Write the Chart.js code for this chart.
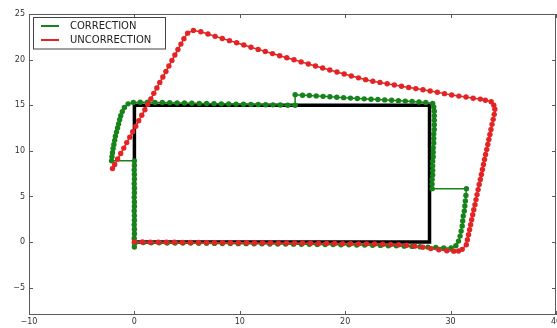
<!DOCTYPE html>
<html>
<head>
<meta charset="utf-8">
<script src="https://cdn.jsdelivr.net/npm/chart.js@4.4.1/dist/chart.umd.min.js"></script>
<style>
    html, body { margin: 0; padding: 0; background: #fff; overflow: hidden; }
    #wrap { width: 557px; height: 328px; overflow: hidden; }
</style>
</head>
<body>
<div id="wrap"><canvas id="trackChart" width="580" height="328"></canvas></div>
<script>
// Daten
const seriesNames = ['CORRECTION', 'UNCORRECTION'];

const xTicks = [-10, 0, 10, 20, 30, 40];
const yTicks = [-5, 0, 5, 10, 15, 20, 25];

// Sollbahn (schwarzes Rechteck)
const rectX = [0, 28, 28, 0, 0];
const rectY = [0, 0, 15, 15, 0];

// CORRECTION (gruen)
const correctionX = [
    0.1, 0.85, 1.6, 2.35, 3.1, 3.85, 4.6, 5.35, 6.1, 6.85, 7.6, 8.35, 9.1, 9.85, 10.6, 11.35, 12.1, 12.85, 13.6, 14.35,
    15.1, 15.85, 16.6, 17.35, 18.1, 18.85, 19.6, 20.35, 21.1, 21.85, 22.6, 23.35, 24.1, 24.85, 25.6, 26.35, 27.1, 27.85, 28.6, 29.35, 30.05,
    30.5, 30.75, 30.9, 31.0, 31.1, 31.15, 31.2, 31.3, 31.35, 31.4, 31.45, 31.5,
    28.25, 28.25, 28.25, 28.3, 28.3, 28.3, 28.3, 28.35, 28.35, 28.35, 28.4, 28.4, 28.4, 28.45, 28.45, 28.45, 28.45, 28.45, 28.4, 28.3,
    27.65, 27.0, 26.35, 25.7, 25.05, 24.4, 23.75, 23.1, 22.45, 21.8, 21.15, 20.5, 19.85, 19.2, 18.55, 17.9, 17.25, 16.6, 15.95, 15.25,
    15.25, 14.55, 13.85, 13.15, 12.45, 11.75, 11.05, 10.35, 9.65, 8.95, 8.25, 7.55, 6.85, 6.15, 5.45, 4.75, 4.05, 3.35, 2.65, 1.95, 1.25, 0.55,
    -0.1, -0.6, -0.95, -1.15, -1.3, -1.4, -1.5, -1.6, -1.7, -1.8, -1.87, -1.95, -2.02, -2.08, -2.13, -2.17,
    0.0, 0.0, -0.02, 0.0, 0.0, -0.02, 0.0, 0.0, -0.02, 0.0, 0.0, -0.02, 0.0, 0.0, -0.02, 0.0, 0.0, -0.02, 0.0, 0.0
];
const correctionY = [
    -0.05, -0.06, -0.08, -0.08, -0.1, -0.1, -0.12, -0.12, -0.13, -0.14, -0.15, -0.16, -0.17, -0.18, -0.18, -0.2, -0.2, -0.21, -0.22, -0.22,
    -0.23, -0.24, -0.25, -0.26, -0.27, -0.28, -0.3, -0.3, -0.32, -0.33, -0.35, -0.37, -0.4, -0.42, -0.45, -0.48, -0.52, -0.56, -0.6, -0.64, -0.65,
    -0.4, 0.1, 0.65, 1.2, 1.75, 2.3, 2.85, 3.4, 3.95, 4.5, 5.1, 5.85,
    5.85, 6.35, 6.85, 7.35, 7.85, 8.35, 8.85, 9.35, 9.85, 10.35, 10.85, 11.35, 11.85, 12.35, 12.85, 13.35, 13.85, 14.35, 14.8, 15.2,
    15.3, 15.35, 15.4, 15.45, 15.5, 15.54, 15.58, 15.62, 15.66, 15.7, 15.74, 15.78, 15.83, 15.88, 15.92, 15.97, 16.02, 16.07, 16.1, 16.15,
    15.0, 15.0, 15.02, 15.04, 15.05, 15.07, 15.09, 15.1, 15.12, 15.14, 15.15, 15.17, 15.19, 15.2, 15.22, 15.24, 15.25, 15.27, 15.29, 15.3, 15.32, 15.32,
    15.3, 15.15, 14.75, 14.3, 13.85, 13.4, 12.95, 12.5, 12.05, 11.6, 11.15, 10.7, 10.25, 9.8, 9.35, 8.9,
    8.9, 8.4, 7.9, 7.4, 6.9, 6.4, 5.9, 5.4, 4.9, 4.4, 3.9, 3.4, 2.9, 2.4, 1.9, 1.4, 0.9, 0.4, -0.1, -0.55
];

// UNCORRECTION (rot)
const uncorrectionX = [
    0.0, 0.76, 1.52, 2.28, 3.04, 3.8, 4.56, 5.32, 6.08, 6.84, 7.6, 8.36, 9.12, 9.88, 10.64, 11.4, 12.16, 12.92, 13.68, 14.44,
    15.2, 15.96, 16.72, 17.48, 18.24, 19.0, 19.76, 20.52, 21.28, 22.04, 22.8, 23.56, 24.32, 25.08, 25.84, 26.6, 27.36, 28.12, 28.88, 29.64, 30.3,
    30.75, 31.1, 31.49, 31.59, 31.7, 31.8, 31.9, 32.0, 32.1, 32.2, 32.31, 32.41, 32.51, 32.61, 32.71, 32.82, 32.92, 33.02, 33.12, 33.22,
    33.32, 33.43, 33.53, 33.63, 33.73, 33.83, 33.93, 34.04, 34.14, 34.2, 34.1, 33.85, 33.3,
    32.82, 32.14, 31.46, 30.78, 30.1, 29.42, 28.74, 28.06, 27.38, 26.7, 26.02, 25.34, 24.66, 23.98, 23.3, 22.62, 21.94, 21.26, 20.58, 19.9,
    19.22, 18.54, 17.86, 17.18, 16.5, 15.82, 15.14, 14.46, 13.78, 13.1, 12.42, 11.74, 11.06, 10.38, 9.7, 9.02, 8.34, 7.66, 6.98, 6.3, 5.6,
    5.05, 4.7, 4.41, 4.13, 3.84, 3.56, 3.27, 2.99, 2.7, 2.41, 2.13, 1.84, 1.56, 1.27, 0.99, 0.7, 0.41, 0.13, -0.16, -0.44, -0.73, -1.01,
    -1.3, -1.59, -1.87, -2.08
];
const uncorrectionY = [
    0.0, 0.0, -0.02, -0.02, -0.03, -0.03, -0.05, -0.05, -0.05, -0.06, -0.06, -0.07, -0.08, -0.08, -0.08, -0.1, -0.1, -0.1, -0.12, -0.12,
    -0.12, -0.14, -0.14, -0.15, -0.15, -0.16, -0.18, -0.18, -0.2, -0.2, -0.22, -0.24, -0.27, -0.3, -0.36, -0.45, -0.58, -0.72, -0.86, -0.96, -1.0,
    -0.98, -0.8, -0.3, 0.25, 0.8, 1.35, 1.9, 2.45, 3.0, 3.55, 4.1, 4.65, 5.2, 5.75, 6.3, 6.85, 7.4, 7.95, 8.5, 9.05,
    9.6, 10.15, 10.7, 11.25, 11.8, 12.35, 12.9, 13.45, 14.0, 14.55, 15.0, 15.38, 15.55,
    15.67, 15.77, 15.9, 16.0, 16.12, 16.27, 16.42, 16.55, 16.69, 16.82, 16.95, 17.08, 17.22, 17.36, 17.5, 17.63, 17.8, 18.0, 18.2, 18.42,
    18.64, 18.86, 19.08, 19.3, 19.52, 19.75, 19.98, 20.2, 20.43, 20.66, 20.89, 21.12, 21.36, 21.6, 21.85, 22.08, 22.32, 22.55, 22.8, 23.05, 23.2,
    22.9, 22.3, 21.7, 21.1, 20.5, 19.9, 19.3, 18.7, 18.1, 17.5, 16.9, 16.3, 15.7, 15.1, 14.5, 13.9, 13.3, 12.7, 12.1, 11.5, 10.9, 10.3,
    9.7, 9.1, 8.5, 8.05
];

const GREEN = '#16841a';
const RED = '#e42424';
const AXIS = '#5a5a5a';
const FONT = 'DejaVu Sans';

function toPoints(xs, ys) {
    return xs.map((x, i) => ({ x: x, y: ys[i] }));
}

function fmt(v) {
    return v < 0 ? '\u2212' + Math.abs(v) : String(v);
}

// Rahmen + Ticks nach innen (wie matplotlib)
const framePlugin = {
    id: 'frame',
    afterDraw(chart) {
        const ctx = chart.ctx;
        const a = chart.chartArea;
        const xs = chart.scales.x;
        const ys = chart.scales.y;
        ctx.save();
        ctx.strokeStyle = AXIS;
        ctx.lineWidth = 1;
        ctx.strokeRect(a.left + 0.5, a.top + 0.5, a.right - a.left - 1, a.bottom - a.top - 1);
        ctx.beginPath();
        xTicks.forEach(v => {
            const px = Math.round(xs.getPixelForValue(v)) + 0.5;
            ctx.moveTo(px, a.bottom); ctx.lineTo(px, a.bottom - 4);
            ctx.moveTo(px, a.top); ctx.lineTo(px, a.top + 4);
        });
        yTicks.forEach(v => {
            const py = Math.round(ys.getPixelForValue(v)) + 0.5;
            ctx.moveTo(a.left, py); ctx.lineTo(a.left + 4, py);
            ctx.moveTo(a.right, py); ctx.lineTo(a.right - 4, py);
        });
        ctx.stroke();
        ctx.restore();
    }
};

// Legende oben links im Plot
const legendPlugin = {
    id: 'boxLegend',
    afterDraw(chart) {
        const ctx = chart.ctx;
        const colors = [GREEN, RED];
        ctx.save();
        ctx.fillStyle = '#fff';
        ctx.fillRect(33.5, 17.5, 132, 31.5);
        ctx.strokeStyle = '#444';
        ctx.lineWidth = 1;
        ctx.strokeRect(33.5, 17.5, 132, 31.5);
        ctx.font = '10px "' + FONT + '"';
        ctx.textBaseline = 'middle';
        seriesNames.forEach((name, i) => {
            const y = 26 + i * 14;
            ctx.strokeStyle = colors[i];
            ctx.lineWidth = 2;
            ctx.beginPath();
            ctx.moveTo(41, y);
            ctx.lineTo(59, y);
            ctx.stroke();
            ctx.fillStyle = '#222';
            ctx.fillText(name, 70, y + 0.5);
        });
        ctx.restore();
    }
};

const ctx = document.getElementById('trackChart').getContext('2d');
const chart = new Chart(ctx, {
    type: 'scatter',
    data: {
        datasets: [
            {
                label: seriesNames[0],
                data: toPoints(correctionX, correctionY),
                showLine: true,
                borderColor: GREEN,
                backgroundColor: GREEN,
                borderWidth: 1.5,
                pointRadius: 2.7,
                pointBorderWidth: 0,
                order: 1
            },
            {
                label: seriesNames[1],
                data: toPoints(uncorrectionX, uncorrectionY),
                showLine: true,
                borderColor: RED,
                backgroundColor: RED,
                borderWidth: 1.5,
                pointRadius: 2.7,
                pointBorderWidth: 0,
                order: 0
            },
            {
                label: 'target',
                data: toPoints(rectX, rectY),
                showLine: true,
                borderColor: '#000',
                backgroundColor: '#000',
                borderWidth: 3.5,
                pointRadius: 0,
                order: 2
            }
        ]
    },
    options: {
        responsive: false,
        animation: false,
        devicePixelRatio: 1,
        layout: { padding: { top: 14, right: 24, left: 0, bottom: 0 } },
        plugins: {
            legend: { display: false },
            tooltip: { enabled: false }
        },
        scales: {
            x: {
                type: 'linear',
                min: -10,
                max: 40,
                grid: { display: false, drawTicks: false },
                border: { display: false },
                afterBuildTicks: s => { s.ticks = xTicks.map(v => ({ value: v })); },
                afterFit: s => { s.height = 13; s.paddingLeft = 0; s.paddingRight = 0; },
                ticks: {
                    font: { family: FONT, size: 8 },
                    color: '#333',
                    padding: 2,
                    maxRotation: 0,
                    callback: v => fmt(v)
                }
            },
            y: {
                type: 'linear',
                min: -8,
                max: 25,
                grid: { display: false, drawTicks: false },
                border: { display: false },
                afterBuildTicks: s => { s.ticks = yTicks.map(v => ({ value: v })); },
                afterFit: s => { s.width = 29; s.paddingTop = 0; s.paddingBottom = 0; },
                ticks: {
                    font: { family: FONT, size: 8 },
                    color: '#333',
                    padding: 4,
                    callback: v => fmt(v)
                }
            }
        }
    },
    plugins: [framePlugin, legendPlugin]
});
</script>
</body>
</html>
